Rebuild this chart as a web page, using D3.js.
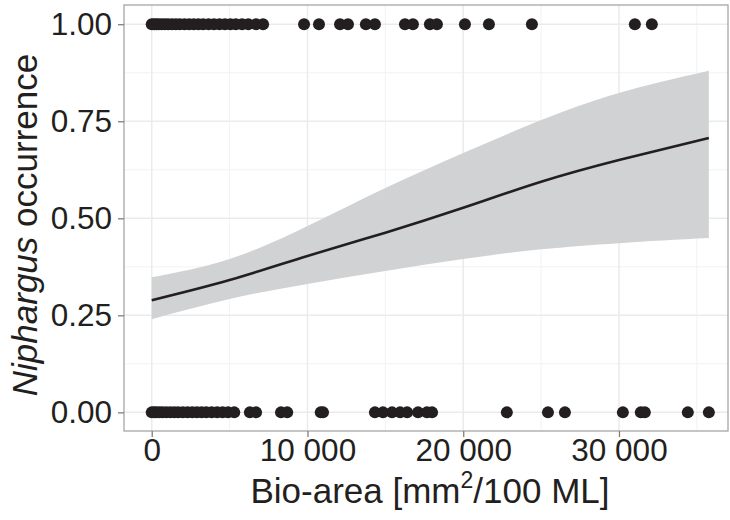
<!DOCTYPE html>
<html>
<head>
<meta charset="utf-8">
<script src="https://cdn.jsdelivr.net/npm/d3@7"></script>
<style>
  html, body { margin: 0; padding: 0; background: #fff; }
  svg { display: block; font-family: "Liberation Sans", Arial, sans-serif; }
</style>
</head>
<body>
<div id="chart"></div>
<script>
// bio-area of sites where Niphargus was present (occurrence = 1)
const presentX = [
  0, 150, 300, 450, 650, 850, 1050, 1300, 1550, 1800, 2100, 2400, 2700, 3000,
  3300, 3650, 4000, 4350, 4700, 5050, 5400, 5800, 6200, 6700, 7150,
  9780, 10740, 12090, 12600, 13750, 14330, 16260, 16770, 17860, 18310,
  20110, 21650, 24410, 31020, 32110,
];

// bio-area of sites where Niphargus was absent (occurrence = 0)
const absentX = [
  0, 150, 300, 500, 700, 950, 1200, 1450, 1700, 2000, 2300, 2600, 2900, 3200,
  3500, 3850, 4200, 4550, 4900, 5300, 6300, 6700, 8300, 8700, 10850, 11000,
  14330, 14850, 15430, 15950, 16400, 17100, 17670, 18000, 22800, 25440, 26530,
  30250, 31400, 31660, 34420, 35770,
];

// fitted logistic curve with its confidence band
const fitX = [0, 5000, 10000, 15000, 20000, 25000, 30000, 35770];
const fitY = [0.289, 0.341, 0.403, 0.463, 0.527, 0.594, 0.650, 0.707];
const fitLower = [0.240, 0.292, 0.331, 0.364, 0.395, 0.420, 0.436, 0.449];
const fitUpper = [0.348, 0.395, 0.480, 0.578, 0.668, 0.753, 0.823, 0.880];

const xTicks = [0, 10000, 20000, 30000];
const xMinor = [5000, 15000, 25000, 35000];
const yTicks = [0, 0.25, 0.5, 0.75, 1];
const yMinor = [0.125, 0.375, 0.625, 0.875];

const width = 730;
const height = 520;
const margin = { top: 5, right: 2, bottom: 89, left: 124 };
const innerWidth = width - margin.left - margin.right;
const innerHeight = height - margin.top - margin.bottom;

const ink = "#231f20";

const svg = d3
  .select("#chart")
  .append("svg")
  .attr("width", width)
  .attr("height", height);

const chart = svg
  .append("g")
  .attr("transform", `translate(${margin.left}, ${margin.top})`);

const x = d3.scaleLinear().domain([-1780, 37000]).range([0, innerWidth]);
const y = d3.scaleLinear().domain([-0.048, 1.0495]).range([innerHeight, 0]);

// grid
chart
  .append("g")
  .selectAll("line.minor-x")
  .data(xMinor)
  .enter()
  .append("line")
  .attr("x1", (d) => x(d))
  .attr("x2", (d) => x(d))
  .attr("y1", 0)
  .attr("y2", innerHeight)
  .attr("stroke", "#f2f2f2")
  .attr("stroke-width", 1);

chart
  .append("g")
  .selectAll("line.minor-y")
  .data(yMinor)
  .enter()
  .append("line")
  .attr("x1", 0)
  .attr("x2", innerWidth)
  .attr("y1", (d) => y(d))
  .attr("y2", (d) => y(d))
  .attr("stroke", "#f2f2f2")
  .attr("stroke-width", 1);

chart
  .append("g")
  .selectAll("line.major-x")
  .data(xTicks)
  .enter()
  .append("line")
  .attr("x1", (d) => x(d))
  .attr("x2", (d) => x(d))
  .attr("y1", 0)
  .attr("y2", innerHeight)
  .attr("stroke", "#ebebeb")
  .attr("stroke-width", 1.5);

chart
  .append("g")
  .selectAll("line.major-y")
  .data(yTicks)
  .enter()
  .append("line")
  .attr("x1", 0)
  .attr("x2", innerWidth)
  .attr("y1", (d) => y(d))
  .attr("y2", (d) => y(d))
  .attr("stroke", "#ebebeb")
  .attr("stroke-width", 1.5);

// confidence band and fitted line
const fitRows = fitX.map((v, i) => ({ x: v, fit: fitY[i], lo: fitLower[i], hi: fitUpper[i] }));

chart
  .append("path")
  .datum(fitRows)
  .attr("fill", "#d1d2d4")
  .attr(
    "d",
    d3.area()
      .x((d) => x(d.x))
      .y0((d) => y(d.lo))
      .y1((d) => y(d.hi))
      .curve(d3.curveNatural),
  );

chart
  .append("path")
  .datum(fitRows)
  .attr("fill", "none")
  .attr("stroke", ink)
  .attr("stroke-width", 2.6)
  .attr(
    "d",
    d3.line()
      .x((d) => x(d.x))
      .y((d) => y(d.fit))
      .curve(d3.curveNatural),
  );

// points
const points = presentX.map((v) => ({ x: v, y: 1 })).concat(absentX.map((v) => ({ x: v, y: 0 })));

chart
  .append("g")
  .selectAll("circle")
  .data(points)
  .enter()
  .append("circle")
  .attr("cx", (d) => x(d.x))
  .attr("cy", (d) => y(d.y))
  .attr("r", 6)
  .attr("fill", ink);

// panel border
chart
  .append("rect")
  .attr("width", innerWidth)
  .attr("height", innerHeight)
  .attr("fill", "none")
  .attr("stroke", "#a6a6a6")
  .attr("stroke-width", 1.3);

// axes
chart
  .append("g")
  .attr("transform", `translate(0, ${innerHeight})`)
  .call(
    d3.axisBottom(x)
      .tickValues(xTicks)
      .tickSize(6)
      .tickPadding(2)
      .tickFormat((d) => d3.format(",")(d).replace(/,/g, " ")),
  )
  .call((g) => g.select(".domain").remove())
  .call((g) => g.selectAll("line").attr("stroke", "#7f7f7f").attr("stroke-width", 1.3))
  .call((g) => g.selectAll("text").attr("fill", ink).attr("font-size", 31.5).attr("font-family", "Liberation Sans, Arial, sans-serif"));

chart
  .append("g")
  .call(
    d3.axisLeft(y)
      .tickValues(yTicks)
      .tickSize(6)
      .tickPadding(6)
      .tickFormat(d3.format(".2f")),
  )
  .call((g) => g.select(".domain").remove())
  .call((g) => g.selectAll("line").attr("stroke", "#7f7f7f").attr("stroke-width", 1.3))
  .call((g) => g.selectAll("text").attr("fill", ink).attr("font-size", 31.5).attr("font-family", "Liberation Sans, Arial, sans-serif"));

// axis titles
const xTitle = svg
  .append("text")
  .attr("x", margin.left + innerWidth / 2 + 4)
  .attr("y", 503)
  .attr("text-anchor", "middle")
  .attr("fill", ink)
  .attr("font-size", 35);
xTitle.append("tspan").text("Bio-area [mm");
xTitle.append("tspan").attr("font-size", 23).attr("dy", -15).text("2");
xTitle.append("tspan").attr("dy", 15).text("/100 ML]");

const yTitle = svg
  .append("text")
  .attr("transform", `translate(37, 225) rotate(-90)`)
  .attr("text-anchor", "middle")
  .attr("fill", ink)
  .attr("font-size", 35);
yTitle.append("tspan").attr("font-style", "italic").text("Niphargus");
yTitle.append("tspan").text(" occurrence");
</script>
</body>
</html>
